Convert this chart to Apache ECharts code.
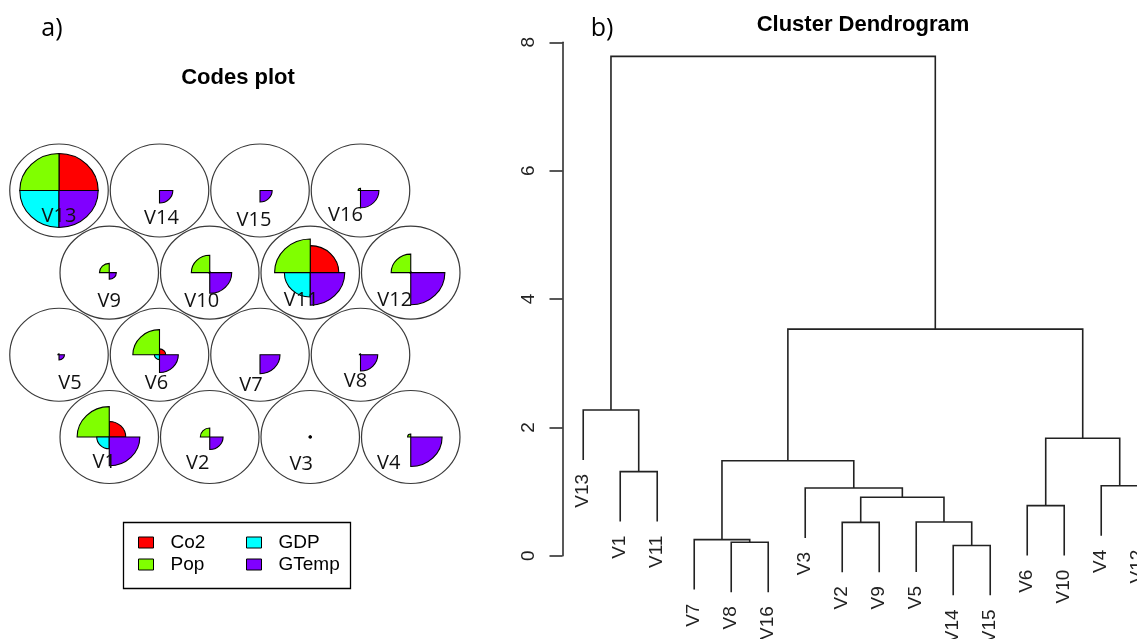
<!DOCTYPE html>
<html><head><meta charset="utf-8">
<script src="https://cdn.jsdelivr.net/npm/echarts@6/dist/echarts.min.js"></script>
<style>html,body{margin:0;padding:0;background:#fff}#c{width:1137px;height:639px}</style>
</head><body><div id="c"></div>
<script>
// ---------------- DATA ----------------
const nodeNames = ['V1','V2','V3','V4','V5','V6','V7','V8','V9','V10','V11','V12','V13','V14','V15','V16'];
const varNames  = ['Co2','Pop','GDP','GTemp'];
// codes (scaled 0..1, radius fraction of the fan)
const co2   = [0.42,0.00,0.03,0.00,0.00,0.16,0.00,0.00,0.00,0.02,0.73,0.02,1.00,0.00,0.00,0.00];
const pop   = [0.82,0.24,0.03,0.08,0.03,0.68,0.00,0.03,0.25,0.47,0.91,0.50,1.00,0.00,0.00,0.06];
const gdp   = [0.32,0.00,0.03,0.00,0.00,0.13,0.00,0.00,0.00,0.02,0.66,0.02,1.00,0.00,0.00,0.00];
const gtemp = [0.78,0.34,0.03,0.80,0.14,0.48,0.51,0.44,0.18,0.56,0.88,0.87,1.00,0.34,0.31,0.47];
// hierarchical clustering merges (hclust convention: negative = leaf index, positive = earlier merge)
const mergeA = [-14, -8, -7, -2, -5, -6, 4, -3, -4, -1, 3, 6, -13, 11, 13];
const mergeB = [-15,-16,  2, -9,  1,-10, 5,  7,-12,-11, 8, 9,  10, 12, 14];
const mergeH = [0.16,0.21,0.25,0.52,0.525,0.78,0.91,1.055,1.09,1.31,1.48,1.83,2.27,3.53,7.78];
const yTickMax = 8, yTickStep = 2;

// ---------------- LAYOUT / STYLE ----------------
const varColors = ['#FF0000','#80FF00','#00FFFF','#8000FF'];
const varAngles = [[-Math.PI/2,0],[Math.PI,1.5*Math.PI],[Math.PI/2,Math.PI],[0,Math.PI/2]];
const UNIT_R = 0.49, FAN_R = 0.39;
const LABEL_DX = [-5,-12,-9,-22, 11,-3,-9,-5, 0,-8,-9,-16, 0,2,-6,-15];
const LABEL_DY = [25,26,27,26, 28,28,30,26, 29,29,28,28, 26,28,30,25];
const hexX = nodeNames.map((n,i)=> (i%4) + 1 + (Math.floor(i/4)%2===0 ? 0.5 : 0));
const hexY = nodeNames.map((n,i)=> (Math.floor(i/4)+1)*Math.sqrt(3)/2);

// dendrogram structure
const leafOrder = [];
(function walk(k){ // k: merge id (1-based) or negative leaf
  if (k < 0) { leafOrder.push(-k-1); return; }
  walk(mergeA[k-1]); walk(mergeB[k-1]);
})(mergeA.length);
const leafPos = {}; leafOrder.forEach((li,p)=>{ leafPos[li] = p+1; });
const hang = 0.1 * Math.max.apply(null, mergeH);
const mergeX = [];
function cx(k){ return k < 0 ? leafPos[-k-1] : mergeX[k-1]; }
mergeA.forEach((a,i)=>{ mergeX[i] = (cx(a) + cx(mergeB[i]))/2; });
const linkData = mergeA.map((a,i)=>{
  const b = mergeB[i], h = mergeH[i];
  return [cx(a), a<0 ? h-hang : mergeH[a-1], cx(b), b<0 ? h-hang : mergeH[b-1], h];
});
const leafData = [];
mergeA.forEach((a,i)=>{
  [a, mergeB[i]].forEach(c=>{ if (c<0) leafData.push([leafPos[-c-1], mergeH[i]-hang, -c-1]); });
});

// ---------------- CHART ----------------
const chart = echarts.init(document.getElementById('c'), null, {renderer:'canvas'});
const unitData = nodeNames.map((n,i)=>[hexX[i], hexY[i], i]);
const varVals = [co2, pop, gdp, gtemp];

const fanSeries = varNames.map((vn,j)=>({
  type:'custom', name: vn, xAxisIndex:0, yAxisIndex:0, z:3, clip:false,
  itemStyle:{color: varColors[j]},
  data: nodeNames.map((n,i)=>[hexX[i], hexY[i], varVals[j][i]]),
  renderItem: function(params, api){
    const c = api.coord([api.value(0), api.value(1)]);
    const ux = api.size([1,0])[0], uy = api.size([0,1])[1];
    const r = api.value(2) * FAN_R * ux;
    if (!(r > 0)) return null;
    return {type:'sector', x:c[0], y:c[1], scaleY: uy/ux,
      shape:{cx:0, cy:0, r0:0, r:r, startAngle:varAngles[j][0], endAngle:varAngles[j][1], clockwise:true},
      style:{fill: api.visual('color'), stroke:'#000', lineWidth:1.1, strokeNoScale:true}};
  }
}));

const legendCommon = {orient:'vertical', top:533, padding:0, itemWidth:15, itemHeight:11, itemGap:3,
  selectedMode:false, icon:'rect', itemStyle:{borderColor:'#000', borderWidth:1},
  textStyle:{fontFamily:'Liberation Sans', fontSize:19, color:'#000', padding:[0,0,0,12]}};

const option = {
  animation:false,
  backgroundColor:'#fff',
  title:[
    {text:'a)', left:47, top:11, textAlign:'center', textStyle:{fontFamily:'Open Sans', fontSize:25, fontWeight:'normal', color:'#000'}},
    {text:'b)', left:597, top:11, textAlign:'center', textStyle:{fontFamily:'Open Sans', fontSize:25, fontWeight:'normal', color:'#000'}},
    {text:'Codes plot', left:233, top:62, textAlign:'center', textStyle:{fontFamily:'Liberation Sans', fontSize:22, fontWeight:'bold', color:'#000'}},
    {text:'Cluster Dendrogram', left:858, top:9, textAlign:'center', textStyle:{fontFamily:'Liberation Sans', fontSize:22, fontWeight:'bold', color:'#000'}}
  ],
  legend:[
    Object.assign({data: varNames.slice(0,2), left:138}, legendCommon),
    Object.assign({data: varNames.slice(2,4), left:246}, legendCommon)
  ],
  graphic:[{type:'rect', left:121, top:520, shape:{width:227, height:66}, style:{fill:'none', stroke:'#000', lineWidth:1.3}}],
  grid:[
    {left:8.75, top:139.6, width:452.25, height:341.6},
    {left:562.5, top:42.3, right:0, height:513.4}
  ],
  xAxis:[
    {gridIndex:0, type:'value', min:0.5, max:5, show:false},
    {gridIndex:1, type:'value', min:0.44, max:0.44 + (1137-562.5)/37, show:false}
  ],
  yAxis:[
    {gridIndex:0, type:'value', min:0.4, max:4, show:false},
    {gridIndex:1, type:'value', min:0, max:yTickMax, interval:yTickStep, splitLine:{show:false},
     axisLine:{show:true, lineStyle:{color:'#222', width:1.5}},
     axisTick:{show:true, length:13, lineStyle:{color:'#222', width:1.5}},
     axisLabel:{rotate:90, margin:24, fontFamily:'Liberation Sans', fontSize:19, color:'#222'}}
  ],
  series:[
    {type:'custom', name:'units', xAxisIndex:0, yAxisIndex:0, z:2, clip:false, data:unitData,
     renderItem:function(params, api){
       const c = api.coord([api.value(0), api.value(1)]);
       const ux = api.size([1,0])[0], uy = api.size([0,1])[1];
       return {type:'circle', x:c[0], y:c[1], scaleY: uy/ux, shape:{cx:0, cy:0, r:UNIT_R*ux},
         style:{fill:'none', stroke:'#3a3a3a', lineWidth:1.2, strokeNoScale:true}};
     }},
    ...fanSeries,
    {type:'custom', name:'unitLabels', xAxisIndex:0, yAxisIndex:0, z:4, clip:false, data:unitData,
     renderItem:function(params, api){
       const i = params.dataIndex;
       const c = api.coord([api.value(0), api.value(1)]);
       return {type:'text', x:c[0]+LABEL_DX[i], y:c[1]+LABEL_DY[i],
         style:{text:nodeNames[i], fontFamily:'Open Sans', fontSize:20, fill:'#111', align:'center', verticalAlign:'middle'}};
     }},
    {type:'custom', name:'links', xAxisIndex:1, yAxisIndex:1, z:2, clip:false, data:linkData,
     renderItem:function(params, api){
       const p1 = api.coord([api.value(0), api.value(1)]);
       const p2 = api.coord([api.value(0), api.value(4)]);
       const p3 = api.coord([api.value(2), api.value(4)]);
       const p4 = api.coord([api.value(2), api.value(3)]);
       return {type:'polyline', shape:{points:[p1,p2,p3,p4]}, style:{fill:'none', stroke:'#222', lineWidth:1.6}};
     }},
    {type:'custom', name:'leafLabels', xAxisIndex:1, yAxisIndex:1, z:2, clip:false, data:leafData,
     renderItem:function(params, api){
       const p = api.coord([api.value(0), api.value(1)]);
       return {type:'text', x:p[0], y:p[1]+14, rotation:Math.PI/2,
         style:{text:nodeNames[api.value(2)], fontFamily:'Liberation Sans', fontSize:19, fill:'#222', align:'right', verticalAlign:'middle'}};
     }}
  ]
};
chart.setOption(option);
</script></body></html>
